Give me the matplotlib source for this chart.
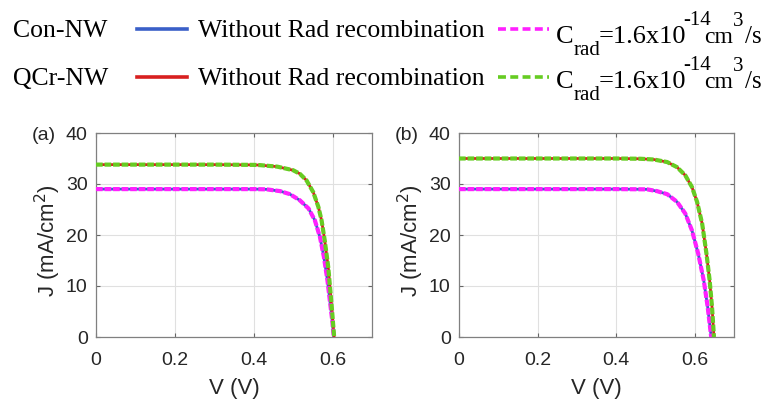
import matplotlib.pyplot as plt
from matplotlib.lines import Line2D

plt.rcParams["font.family"] = ["Liberation Sans", "DejaVu Sans"]

# J-V curves, V in volts, J in mA/cm^2
v_con_a = [0.0, 0.10, 0.20, 0.30, 0.40, 0.433, 0.467, 0.492, 0.517, 0.539, 0.555,
           0.568, 0.578, 0.587, 0.593, 0.599, 0.603]
j_con_a = [29.0, 29.0, 29.0, 29.0, 29.0, 28.95, 28.6, 28.0, 26.8, 25.2, 22.9,
           19.6, 15.7, 11.1, 7.2, 3.3, 0.0]
v_qcr_a = [0.0, 0.10, 0.20, 0.30, 0.40, 0.416, 0.46, 0.50, 0.517, 0.534, 0.551,
           0.564, 0.572, 0.580, 0.589, 0.595, 0.600, 0.604]
j_qcr_a = [33.8, 33.8, 33.8, 33.8, 33.75, 33.7, 33.4, 32.7, 32.0, 30.7, 28.4,
           25.5, 22.9, 19.0, 13.7, 8.5, 3.9, 0.0]

v_con_b = [0.0, 0.10, 0.20, 0.30, 0.40, 0.479, 0.504, 0.530, 0.555, 0.576, 0.593,
           0.609, 0.623, 0.633, 0.642]
j_con_b = [29.0, 29.0, 29.0, 29.0, 29.0, 28.95, 28.6, 28.0, 26.5, 24.2, 20.9,
           16.3, 11.1, 5.9, 0.0]
v_qcr_b = [0.0, 0.10, 0.20, 0.30, 0.40, 0.462, 0.496, 0.530, 0.555, 0.576, 0.593,
           0.606, 0.619, 0.630, 0.638, 0.644, 0.649]
j_qcr_b = [35.0, 35.0, 35.0, 35.0, 35.0, 34.95, 34.8, 34.3, 33.3, 31.7, 29.4,
           26.5, 22.2, 16.3, 11.1, 5.9, 0.0]

x_ticks = [0, 0.2, 0.4, 0.6]
x_tick_labels = ["0", "0.2", "0.4", "0.6"]
y_ticks = [0, 10, 20, 30, 40]
panels = ["(a)", "(b)"]

c_blue = "#3a5fc8"
c_red = "#d82020"
c_mag = "#ff20ff"
c_green = "#66cc22"

fig = plt.figure(figsize=(7.66, 4.03), dpi=100)
W, H = 766, 403

def px_axes(x0, y0, x1, y1):
    return fig.add_axes([x0 / W, 1 - y1 / H, (x1 - x0) / W, (y1 - y0) / H])

ax_a = px_axes(96, 133, 372, 337)
ax_b = px_axes(459, 133, 734, 337)

data = [(ax_a, v_con_a, j_con_a, v_qcr_a, j_qcr_a),
        (ax_b, v_con_b, j_con_b, v_qcr_b, j_qcr_b)]

for i, (ax, vc, jc, vq, jq) in enumerate(data):
    # solid curves underneath, dashed curves on top
    ax.plot(vc, jc, color=c_blue, lw=2.0, zorder=2)
    ax.plot(vq, jq, color=c_red, lw=2.0, zorder=2)
    ax.plot(vc, jc, color=c_mag, lw=3.0, dashes=(1.6, 0.45), zorder=3)
    ax.plot(vq, jq, color=c_green, lw=3.0, dashes=(1.6, 0.45), zorder=3)
    ax.set_xlim(0, 0.7)
    ax.set_ylim(0, 40)
    ax.set_xticks(x_ticks)
    ax.set_xticklabels(x_tick_labels)
    ax.set_yticks(y_ticks)
    ax.grid(True, color="#e0e0e0", lw=0.8)
    ax.set_axisbelow(True)
    ax.tick_params(labelsize=14, length=3, direction="in", color="#666666",
                   top=True, right=True, labelcolor="#262626")
    ax.tick_params(axis="x", pad=11)
    ax.tick_params(axis="y", pad=6)
    for s in ax.spines.values():
        s.set_color("#808080")
        s.set_linewidth(0.9)
    ax.set_xlabel("V (V)", fontsize=16, color="#262626")
    ax.xaxis.set_label_coords(0.5, -0.2)
    ax.xaxis.label.set_va("top")
    ax.set_ylabel("J (mA/cm$^2$)", fontsize=16, color="#262626")
    ax.yaxis.set_label_coords(-0.12, 0.47)
    ax.text(-0.232, 0.99, panels[i], transform=ax.transAxes, fontsize=14,
            ha="left", va="center", color="#262626")

# legend block across the top, in pixel units
leg = fig.add_axes([0, 1 - 110 / H, 1, 110 / H])
leg.set_xlim(0, W)
leg.set_ylim(110, 0)
leg.axis("off")

serif = "Liberation Serif"
rows = [("Con-NW", c_blue, c_mag, 37, 43), ("QCr-NW", c_red, c_green, 85, 88)]
for name, solid_c, dash_c, yb, cb in rows:
    leg.text(13, yb, name, fontsize=18.5, fontfamily=serif, ha="left", va="baseline")
    leg.add_line(Line2D([137, 187], [yb - 8, yb - 8], color=solid_c, lw=2.6))
    leg.text(198, yb, "Without Rad recombination", fontsize=18.5,
             fontfamily=serif, ha="left", va="baseline")
    leg.add_line(Line2D([498, 549], [yb - 8, yb - 8], color=dash_c, lw=2.6,
                        dashes=(2.2, 1.2)))
    # C_rad = 1.6x10^-14 cm^3/s, pieced together
    leg.text(556, cb, "C", fontsize=19, fontfamily=serif, ha="left", va="baseline")
    leg.text(574, cb + 12, "rad", fontsize=15, fontfamily=serif, ha="left", va="baseline")
    leg.text(599, cb, "=1.6x10", fontsize=19, fontfamily=serif, ha="left", va="baseline")
    leg.text(683, cb - 18, "-14", fontsize=15, fontfamily=serif, ha="left", va="baseline")
    leg.text(704, cb, "cm", fontsize=17, fontfamily=serif, ha="left", va="baseline")
    leg.text(733, cb - 17, "3", fontsize=15, fontfamily=serif, ha="left", va="baseline")
    leg.text(745, cb, "/s", fontsize=18, fontfamily=serif, ha="left", va="baseline")

fig.savefig("out.png", dpi=100)
